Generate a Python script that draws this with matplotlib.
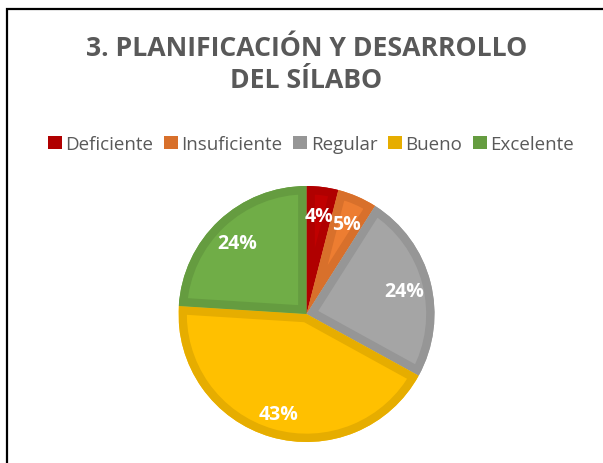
import matplotlib
matplotlib.use("Agg")
import matplotlib.pyplot as plt
from matplotlib.patches import Rectangle, Patch, Wedge
import numpy as np

categories = ["Deficiente", "Insuficiente", "Regular", "Bueno", "Excelente"]
values = [4, 5, 24, 43, 24]
labels = ["4%", "5%", "24%", "43%", "24%"]
fill_colors = ["#C00000", "#ED7D31", "#A5A5A5", "#FFC000", "#70AD47"]
edge_colors = ["#B00000", "#D8702B", "#969696", "#E6AD00", "#659C40"]
title = "3. PLANIFICACIÓN Y DESARROLLO\nDEL SÍLABO"

W, H = 603, 464
fig = plt.figure(figsize=(W / 100, H / 100), dpi=100)
fig.patch.set_facecolor("white")

cx, cy, R = 306.5, 315, 128
ax = fig.add_axes([(cx - R) / W, (H - cy - R) / H, 2 * R / W, 2 * R / H])
wedges, _ = ax.pie(values, colors=fill_colors, startangle=90, counterclock=False,
                   radius=1.0, wedgeprops=dict(linewidth=0))
for w, ec in zip(wedges, edge_colors):
    b = Wedge(w.center, w.r, w.theta1, w.theta2, facecolor="none",
              edgecolor=ec, linewidth=12, zorder=w.get_zorder() + 0.1)
    ax.add_patch(b)
    b.set_clip_path(w)

cum = np.cumsum([0] + values[:-1])
total = sum(values)
for v, c, lab in zip(values, cum, labels):
    ang = np.deg2rad(90 - (c + v / 2) / total * 360)
    r = 0.79
    ax.text(r * np.cos(ang), r * np.sin(ang) - 0.02, lab, ha="center", va="center",
            color="white", fontsize=14, fontweight="bold", family="Open Sans", zorder=5)
ax.set_xlim(-1, 1)
ax.set_ylim(-1, 1)
ax.axis("off")

fig.text(cx / W, 1 - 36 / H, title, ha="center", va="top", color="#595959",
         fontsize=19.2, fontweight="bold", family="Open Sans", linespacing=1.3)

handles = [Patch(facecolor=c, edgecolor="none") for c in edge_colors]
leg = fig.legend(handles, categories, loc="center", bbox_to_anchor=(311 / W, 1 - 145 / H),
                 ncol=5, frameon=False, handlelength=0.75, handleheight=0.75,
                 handletextpad=0.2, columnspacing=0.55, borderpad=0,
                 prop=dict(family="Open Sans", size=13.5))
for t in leg.get_texts():
    t.set_color("#595959")

fig.add_artist(Rectangle((7 / W, -0.1), 1.2, 1 - 9.5 / H + 0.1, transform=fig.transFigure,
                         facecolor="none", edgecolor="black", linewidth=1.6))

fig.savefig("out.png", dpi=100, facecolor="white")
